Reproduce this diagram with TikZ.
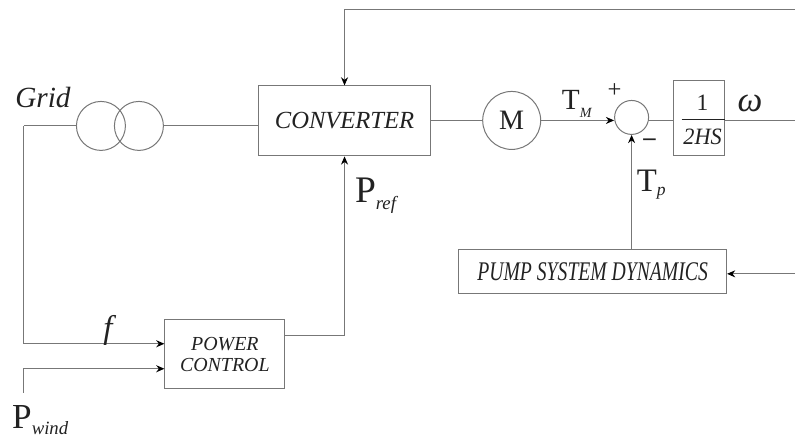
\documentclass[tikz,border=0pt]{standalone}
\usepackage{fontspec}
\setmainfont{Liberation Serif}
\usetikzlibrary{arrows.meta,calc}
\definecolor{schemalinea}{HTML}{777777}
\definecolor{schematesto}{HTML}{222222}
% #1 = lettera, #2 = corpo del pedice, #3 = discesa, #4 = pedice
\newcommand{\pedice}[4]{#1\raisebox{-#3}{\fontsize{#2}{#2}\selectfont\itshape #4}}
\newcommand{\stretto}[2]{\scalebox{#1}[1]{#2}}
\tikzset{
  blocco/.style={draw=schemalinea, line width=0.85pt, inner sep=0pt, text=schematesto},
  tondo/.style={draw=schemalinea, line width=0.85pt, circle, inner sep=0pt, text=schematesto},
  filo/.style={draw=schemalinea, line width=0.85pt},
  freccia/.style={filo, -{Stealth[length=7pt,width=6pt,black]}},
  etichetta/.style={text=schematesto, inner sep=0pt, font=\fontsize{25}{25}\selectfont}
}

\begin{document}
\begin{tikzpicture}[x=0.03cm,y=-0.03cm]

  % ---- Sfondo --------------------------------------------
  \fill[white] (0,0) rectangle (795,439);

  % ---- Blocchi --------------------------------------------
  \node[tondo, minimum size=1.47cm] (trafoa) at (101,126) {};
  \node[tondo, minimum size=1.47cm] (trafob) at (139,126) {};
  \node[blocco, minimum width=5.175cm, minimum height=2.1cm, font=\fontsize{21}{21}\selectfont\itshape]
    (converter) at (344.75,121) {CONVERTER};
  \node[tondo, minimum size=1.74cm, font=\fontsize{24}{24}\selectfont] (motore) at (512,120.5) {M};
  \node[tondo, minimum size=1.02cm] (somma) at (632,117.5) {};
  \node[blocco, minimum width=1.53cm, minimum height=2.25cm] (inerzia) at (699.5,118.4) {};
  \node[blocco, minimum width=3.6cm, minimum height=2.085cm, align=center,
        font=\fontsize{17}{18}\selectfont\itshape] (power) at (225,354.3)
        {POWER\\CONTROL};
  \node[blocco, minimum width=8.04cm, minimum height=1.32cm, font=\fontsize{23}{23}\selectfont\itshape]
    (pump) at (593,272) {\stretto{0.73}{PUMP SYSTEM DYNAMICS}};

  % Estremi liberi
  \coordinate (retroazione) at (795,10);
  \coordinate (uscita) at (795,121);
  \coordinate (ritorno) at (795,274);
  \coordinate (vento) at (24,393);
  \coordinate (angolorete) at (24,126);

  % ---- Collegamenti --------------------------------------------
  \draw[filo] (trafoa.west) -- (angolorete);
  \draw[freccia] (angolorete) |- ([yshift=0.31cm]power.west);
  \draw[freccia] (vento) |- ([yshift=-0.44cm]power.west);
  \draw[filo] (trafob.east) -- (trafob.east -| converter.west);
  \draw[freccia] (retroazione) -| (converter.north);
  \draw[freccia] ([yshift=0.56cm]power.east) -| (converter.south);
  \draw[filo] (converter.east |- motore.west) -- (motore.west);
  \draw[freccia] (motore.east) -- (motore.east -| somma.west);
  \draw[filo] (somma.east |- uscita) -- (inerzia.west |- uscita);
  \draw[filo] (inerzia.east |- uscita) -- (uscita);
  \draw[freccia] (somma |- pump.north) -- (somma.south);
  \draw[freccia] (ritorno) -- (pump.east |- ritorno);

  % Frazione dentro il blocco
  \coordinate (barra) at (682,119);
  \draw[draw=schematesto, line width=0.7pt] (barra) -- (barra -| inerzia.east);
  \node[etichetta, font=\fontsize{20}{20}\selectfont] (uno) at (703,103) {1};
  \node[etichetta, font=\fontsize{20}{20}\selectfont\itshape] (duehs) at (703,137) {\stretto{0.95}{2HS}};

  % ---- Etichette --------------------------------------------
  \node[etichetta, font=\fontsize{25}{25}\selectfont\itshape] (grid) at (43,98) {Grid};
  \node[etichetta, font=\fontsize{28}{28}\selectfont\itshape] (freq) at (108,331) {f};
  \node[etichetta, font=\fontsize{32}{32}\selectfont, anchor=base west] (pref) at (355,203) {\pedice{P}{16}{6pt}{ref}};
  \node[etichetta, font=\fontsize{30}{30}\selectfont, anchor=base west] (pwind) at (12,429) {\pedice{P}{16}{4.5pt}{wind}};
  \node[etichetta, anchor=base west] (tm) at (562,110) {\pedice{T}{12}{6.5pt}{M}};
  \node[etichetta, font=\fontsize{28}{28}\selectfont, anchor=base west] (tp) at (637,192) {\pedice{T}{15}{3.5pt}{p}};
  \node[etichetta, font=\fontsize{21}{21}\selectfont] (piu) at (615,91) {+};
  \node[etichetta, font=\fontsize{21}{21}\selectfont\bfseries] (meno) at (650,142) {–};
  \node[etichetta, font=\fontsize{30}{30}\selectfont\itshape] (omega) at (750.5,103) {ω};

\end{tikzpicture}
\end{document}
